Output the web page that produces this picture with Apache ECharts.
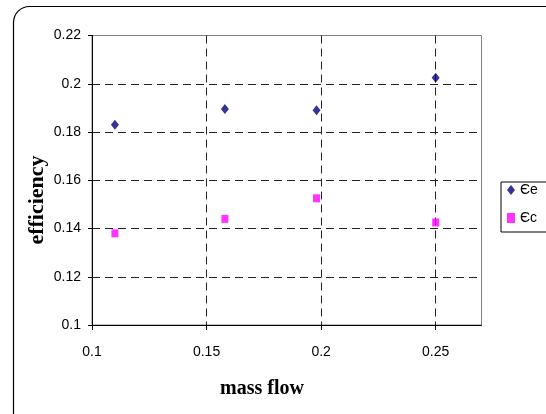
<!DOCTYPE html>
<html>
<head>
<meta charset="utf-8">
<script src="https://cdn.jsdelivr.net/npm/echarts@6/dist/echarts.min.js"></script>
<style>html,body{margin:0;padding:0;background:#fff}#c{width:546px;height:414px}</style>
</head>
<body>
<div id="c"></div>
<script>
const massFlow = [0.11, 0.158, 0.198, 0.25];
const effE = [0.183, 0.1895, 0.189, 0.2025];
const effC = [0.138, 0.144, 0.1525, 0.1425];
const seriesNames = ['Єe', 'Єc'];
const xTitle = 'mass flow';
const yTitle = 'efficiency';

const chart = echarts.init(document.getElementById('c'), null, {renderer: 'canvas'});
const lab = {color: '#000', fontFamily: 'Liberation Sans, Arial, sans-serif', fontSize: 14};
const dash = {color: '#222', type: [8, 5], width: 1};
chart.setOption({
  animation: false,
  backgroundColor: '#fff',
  grid: {left: 92, top: 35.5, width: 389.5, height: 289.5, show: true, borderColor: '#808080', borderWidth: 1, backgroundColor: 'transparent'},
  xAxis: {
    type: 'value', min: 0.1, max: 0.27, interval: 0.05,
    axisLine: {show: true, onZero: false, lineStyle: {color: '#000', width: 1}},
    axisTick: {show: true, length: 5, lineStyle: {color: '#000'}},
    axisLabel: Object.assign({margin: 20, showMaxLabel: false}, lab),
    splitLine: {show: true, showMinLine: false, showMaxLine: false, lineStyle: dash}
  },
  yAxis: {
    type: 'value', min: 0.1, max: 0.22, interval: 0.02,
    axisLine: {show: true, onZero: false, lineStyle: {color: '#000', width: 1}},
    axisTick: {show: true, length: 4, lineStyle: {color: '#000'}},
    axisLabel: Object.assign({margin: 11}, lab),
    splitLine: {show: true, showMinLine: false, showMaxLine: false, lineStyle: dash}
  },
  legend: {
    orient: 'vertical', left: 501, top: 182,
    padding: [1, 30, 7, 6], itemGap: 14, itemWidth: 8, itemHeight: 10,
    borderColor: '#000', borderWidth: 1,
    textStyle: {color: '#000', fontFamily: 'Liberation Sans, Arial, sans-serif', fontSize: 14},
    data: [{name: seriesNames[0], icon: 'diamond'}, {name: seriesNames[1], icon: 'rect'}]
  },
  series: [
    {name: seriesNames[0], type: 'scatter', symbol: 'diamond', symbolSize: [8, 10],
     itemStyle: {color: '#000080'}, data: massFlow.map((x, i) => [x, effE[i]])},
    {name: seriesNames[1], type: 'scatter', symbol: 'rect', symbolSize: [7, 8],
     itemStyle: {color: '#FF00FF'}, data: massFlow.map((x, i) => [x, effC[i]])}
  ],
  graphic: [
    {type: 'rect', z: -1, shape: {x: 13.5, y: 6.5, width: 600, height: 430, r: 16}, style: {fill: 'none', stroke: '#000', lineWidth: 1.2}},
    {type: 'text', x: 262, y: 389, style: {text: xTitle, font: 'bold 20px "Liberation Serif", "Times New Roman", serif', fill: '#000', align: 'center', verticalAlign: 'middle'}},
    {type: 'text', x: 37, y: 200, rotation: Math.PI / 2, style: {text: yTitle, font: 'bold 22px "Liberation Serif", "Times New Roman", serif', fill: '#000', align: 'center', verticalAlign: 'middle'}}
  ]
});
</script>
</body>
</html>
